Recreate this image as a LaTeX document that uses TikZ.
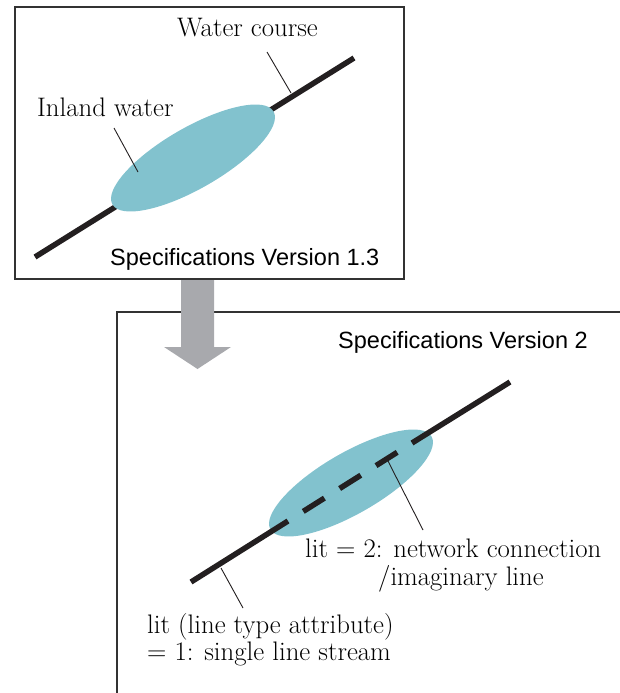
\documentclass[tikz,border=0pt]{standalone}
\usepackage{fontspec}
\usepackage{xcolor}
\newfontfamily\specfont{Liberation Sans}
\usetikzlibrary{positioning}

\definecolor{lakeblue}{RGB}{130,194,206}
\definecolor{arrowgray}{RGB}{168,169,173}
\definecolor{framegray}{RGB}{50,50,50}
\definecolor{streamblack}{RGB}{35,31,32}

\tikzset{
  panel/.style={line width=1.5pt, draw=framegray},
  stream/.style={line width=5.5pt, draw=streamblack},
  leader/.style={line width=0.9pt, draw=streamblack},
  notetext/.style={inner sep=0pt, anchor=base west, font=\fontsize{26.8}{30}\selectfont},
  version/.style={inner sep=0pt, anchor=base west, font=\specfont\fontsize{23.5}{28}\selectfont},
}

\begin{document}
\begin{tikzpicture}[x=1pt, y=-1pt]
    \useasboundingbox (0,0) rectangle (619,693);

    % old specification: the water course runs under the lake
    \draw[panel] (15,7) rectangle (404,279);
    \draw[stream] (35,257) -- (354,58);
    \fill[lakeblue, shift={(193,158)}, rotate=30] (0,0) ellipse (93 and 30.5);

    \node[notetext] (course) at (177,37) {Water course};
    \node[notetext] (inland) at (37,116) {Inland water};
    \node[version] (v13) at (110,265) {Specifications Version 1.3};

    \coordinate (course top) at (267,52);
    \coordinate (course foot) at (291,93);
    \coordinate (inland top) at (114,128);
    \coordinate (inland foot) at (138,172);
    \draw[leader] (course top) -- (course foot);
    \draw[leader] (inland top) -- (inland foot);

    % new specification: imaginary line through the lake
    \draw[panel] (625,312) -- (117,312) -- (117,700);
    \fill[lakeblue, shift={(351,483)}, rotate=30] (0,0) ellipse (93 and 30.5);

    \coordinate (src) at (191,582);
    \coordinate (lake in) at (288,521);
    \coordinate (lake out) at (412,443);
    \coordinate (dst) at (510,382);
    \draw[stream] (src) -- (lake in);
    \draw[stream, dash pattern=on 25pt off 18pt, dash phase=25pt] (lake in) -- (lake out);
    \draw[stream] (lake out) -- (dst);

    \node[version] (v2) at (338,348) {Specifications Version 2};
    \node[notetext] (lit2) at (305,557) {lit = 2: network connection};
    \node[notetext] (lit2b) at (378,585) {/imaginary line};
    \node[notetext] (lit1) at (147,633) {lit (line type attribute)};
    \node[notetext] (lit1b) at (147,660) {= 1: single line stream};

    \coordinate (dash top) at (388,461);
    \coordinate (dash foot) at (423,530);
    \coordinate (single top) at (221,568);
    \coordinate (single foot) at (243,608);
    \draw[leader] (dash top) -- (dash foot);
    \draw[leader] (single top) -- (single foot);

    % grey arrow from old to new
    \fill[arrowgray] (181,280) -- (214,280) -- (214,347) -- (231,347)
        -- (197.5,369) -- (164,347) -- (181,347) -- cycle;
\end{tikzpicture}
\end{document}
